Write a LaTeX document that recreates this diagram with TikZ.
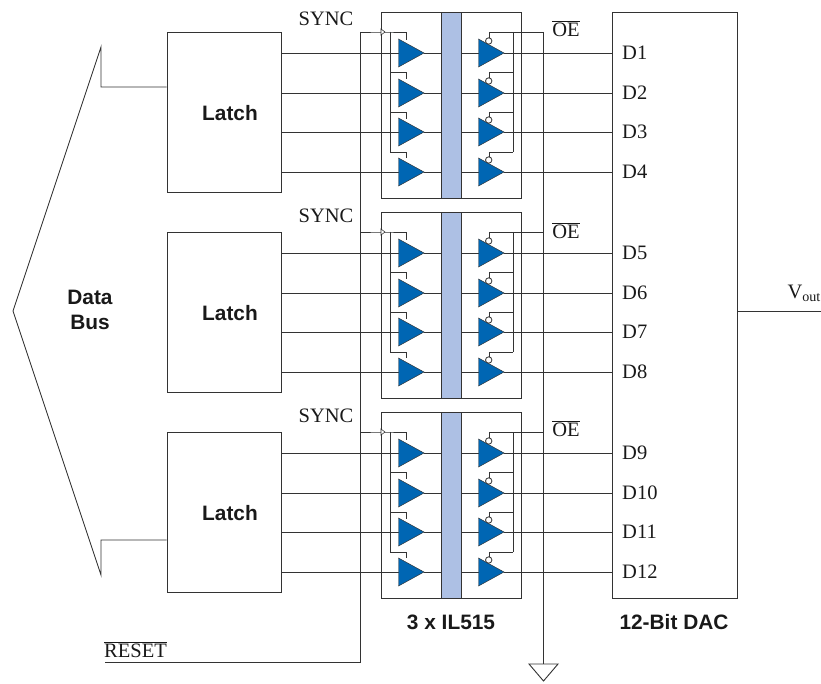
\documentclass[tikz,border=0pt]{standalone}
\usepackage{fontspec}
\setmainfont{Liberation Serif}
\newfontfamily\arialf{Liberation Sans}
\newlength{\px}\setlength{\px}{0.03cm}
\definecolor{bufblue}{HTML}{0066B3}
\definecolor{barblue}{HTML}{ADC0E4}
\definecolor{ln}{gray}{0.2}
\tikzset{
  x=0.03cm,y=-0.03cm,
  wire/.style={draw=ln,line width=0.78pt},
  boxn/.style={draw=ln,line width=0.78pt,inner sep=0pt,fill=none},
  serif/.style={font=\fontsize{17.5pt}{19pt}\selectfont,inner sep=0pt,text=black!90},
  bold/.style={font=\arialf\bfseries\fontsize{17.8pt}{21.7pt}\selectfont,inner sep=0pt,align=center,text=black!90},
  buf/.style={fill=bufblue,draw=ln,line width=0.4pt},
  bub/.style={circle,draw=ln,fill=white,line width=0.7pt,inner sep=0pt,minimum size=6.4\px},
  bar/.style={draw=ln,line width=0.78pt,fill=barblue,inner sep=0pt},
}
\newcommand{\modulepic}[3]{% #1 letter, #2 y offset, #3 first D number
  \begin{scope}[yshift=-#2*0.03cm]
    \node[boxn,minimum width=140\px,minimum height=186\px] (box#1) at (451.5,105) {};
    \coordinate (sy#1) at (360,32);
    \coordinate (clk#1) at (381,32);
    \coordinate (lt#1) at (406,32);
    \coordinate (en#1) at (390,32);
    \coordinate (oet#1) at (543,32);
    \coordinate (ort#1) at (489,32);
    \coordinate (obus#1) at (513,32);
    \draw[wire] (sy#1) -- (clk#1) -- (lt#1) -- ++(0,8);
    \draw[wire] (en#1) -- (390,152);
    \draw[wire] (oet#1) -- (ort#1) -- ++(0,8);
    \draw[wire] (obus#1) -- (513,152);
    \foreach \yy/\kk/\st in {53/0/72,93/1/72,132/2/112,172/3/152}{
      \pgfmathtruncatemacro{\dn}{#3+\kk}
      \node[serif,anchor=west] (d#1\kk) at (622,\yy) {D\dn};
      \coordinate (li#1\kk) at (398.5,\yy);
      \coordinate (lo#1\kk) at (424,\yy);
      \coordinate (ri#1\kk) at (478.5,\yy);
      \coordinate (ro#1\kk) at (504,\yy);
    }
    \foreach \st/\en in {72/79,112/119,152/158}{
      \draw[wire] (390,\st) -- (406,\st) -- (406,\en);
      \draw[wire] (513,\st) -- (489,\st) -- (489,\en);
    }
    \node[bar,minimum width=19.5\px,minimum height=186\px] (bar#1) at (451.2,105) {};
    \foreach \kk in {0,1,2,3}{
      \draw[wire] (latch#1.east |- li#1\kk) -- (li#1\kk);
      \draw[wire] (lo#1\kk) -- (lo#1\kk -| bar#1.west);
      \draw[wire] (bar#1.east |- ri#1\kk) -- (ri#1\kk);
      \draw[wire] (ro#1\kk) -- (ro#1\kk -| dac.west);
      \draw[buf] ($(li#1\kk)+(0,-14)$) -- (lo#1\kk) -- ($(li#1\kk)+(0,14)$) -- cycle;
      \draw[buf] ($(ri#1\kk)+(0,-14)$) -- (ro#1\kk) -- ($(ri#1\kk)+(0,14)$) -- cycle;
      \node[bub] (bb#1\kk) at ($(ri#1\kk)+(10.2,-12)$) {};
    }
    \draw[draw=ln,line width=0.5pt,fill=white] (381,29) -- (385,32) -- (381,35) -- cycle;
  \end{scope}
}
\usetikzlibrary{calc}
\begin{document}
\begin{tikzpicture}
\useasboundingbox (0,0) rectangle (821,684);
% boxes
\node[boxn,minimum width=114\px,minimum height=160\px] (latcha) at (224,112) {};
\node[boxn,minimum width=114\px,minimum height=160\px] (latchb) at (224,312) {};
\node[boxn,minimum width=114\px,minimum height=160\px] (latchc) at (224,512) {};
\node[bold] (lla) at (230,113) {Latch};
\node[bold] (llb) at (230,313) {Latch};
\node[bold] (llc) at (230,513) {Latch};
\node[boxn,minimum width=125\px,minimum height=586\px] (dac) at (674.5,305) {};
% bus
\coordinate (bt) at (101,47);
\coordinate (bl) at (13,311);
\coordinate (bb) at (101,575);
\coordinate (bta) at (101,87);
\coordinate (bba) at (101,540);
\draw[wire,line join=miter] (latcha.west |- bta) -- (bta) -- (bt) -- (bl) -- (bb) -- (bba) -- (latchc.west |- bba);
\node[bold] (dbus) at (90,310) {Data\\Bus};
% reset, oe rails
\coordinate (rtop) at (360,32);
\coordinate (rbot) at (360,662);
\coordinate (rl) at (105,662);
\draw[wire] (rtop) -- (rbot) -- (rl);
\node[serif] (rst) at (135.5,650) {\(\overline{\mbox{RESET}}\)};
\coordinate (otop) at (543,32);
\coordinate (obot) at (543,664);
\coordinate (g1) at (529,664);
\coordinate (g2) at (558,664);
\coordinate (g3) at (543.5,681);
\draw[wire] (otop) -- (obot);
\draw[wire] (g1) -- (g2) -- (g3) -- cycle;
% modules
\modulepic{a}{0}{1}
\modulepic{b}{200}{5}
\modulepic{c}{400}{9}
\node[serif] (s1) at (326,19) {SYNC};
\node[serif] (s2) at (326,216) {SYNC};
\node[serif] (s3) at (326,416) {SYNC};
\node[serif] (o1) at (566,29) {\(\overline{\mbox{OE}}\)};
\node[serif] (o2) at (566,231) {\(\overline{\mbox{OE}}\)};
\node[serif] (o3) at (566,429) {\(\overline{\mbox{OE}}\)};
\node[bold] (t1) at (451,622) {3 x IL515};
\node[bold] (t2) at (674,622) {12-Bit DAC};
% vout
\coordinate (vo) at (821,311);
\draw[wire] (dac.east |- vo) -- (vo);
\node[serif,anchor=east] (vl) at (820.5,293) {V\raisebox{-0.3ex}{\fontsize{12pt}{13pt}\selectfont out}};
\end{tikzpicture}
\end{document}
